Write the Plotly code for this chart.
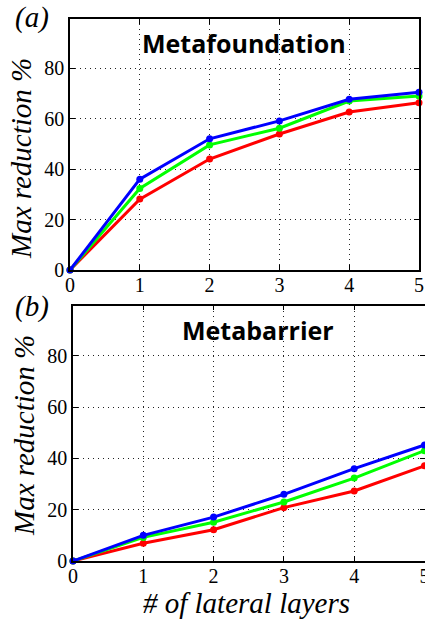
import plotly.graph_objects as go

layers = [0, 1, 2, 3, 4, 5]
# Panel (a) Metafoundation
found_blue = [0, 36, 52, 59.1, 67.7, 70.5]
found_green = [0, 32.3, 49.6, 56.2, 67, 69]
found_red = [0, 28.1, 44, 53.9, 62.6, 66.3]
# Panel (b) Metabarrier
barr_blue = [0, 10, 17.1, 26, 36, 45.2]
barr_green = [0, 9.2, 15.1, 23, 32.3, 43]
barr_red = [0, 6.9, 12.2, 20.8, 27.3, 37.1]

xticks = [0, 1, 2, 3, 4, 5]
yticks = [0, 20, 40, 60, 80]

W, H = 425, 623
fig = go.Figure()

def add(x, y, color, xa, ya):
    fig.add_trace(go.Scatter(x=x, y=y, mode="lines+markers", xaxis=xa, yaxis=ya,
                             line=dict(color=color, width=3),
                             marker=dict(color=color, size=7),
                             cliponaxis=False, showlegend=False))

for ys, c in [(found_red, "#ff0000"), (found_green, "#00ff00"), (found_blue, "#0000ff")]:
    add(layers, ys, c, "x", "y")
for ys, c in [(barr_red, "#ff0000"), (barr_green, "#00ff00"), (barr_blue, "#0000ff")]:
    add(layers, ys, c, "x2", "y2")

serif = "Liberation Serif, Times New Roman, serif"
tickfont = dict(family=serif, size=20, color="black")

common = dict(ticks="inside", ticklen=5, tickcolor="black", tickfont=tickfont,
              showline=True, linecolor="black", linewidth=1.5, mirror="ticks",
              showgrid=True, gridcolor="#222222", griddash="1px,4px", gridwidth=1,
              zeroline=False, automargin=False, ticklabeloverflow="allow")

def xaxis(domain, anchor):
    return dict(domain=domain, anchor=anchor, range=[0, 5], tickvals=xticks,
                ticklabelstandoff=-4, **common)

def yaxis(domain, anchor):
    return dict(domain=domain, anchor=anchor, range=[0, 99.5], tickvals=yticks, **common)

fig.update_layout(
    width=W, height=H, margin=dict(l=0, r=0, t=0, b=0, autoexpand=False),
    paper_bgcolor="white", plot_bgcolor="white",
    xaxis=xaxis([70 / W, 419 / W], "y"),
    yaxis=yaxis([1 - 270 / H, 1 - 19 / H], "x"),
    xaxis2=xaxis([73 / W, 424.5 / W], "y2"),
    yaxis2=yaxis([1 - 561 / H, 1 - 305.7 / H], "x2"),
)

ann = []
def txt(x, y, s, size, family=serif, italic=True, bold=False, angle=0):
    ann.append(dict(x=x / W, y=1 - y / H, xref="paper", yref="paper", text=s,
                    showarrow=False, textangle=angle, xanchor="center", yanchor="middle",
                    font=dict(family=family, size=size, color="black",
                              style="italic" if italic else "normal",
                              weight="bold" if bold else "normal")))

txt(32, 17, "(a)", 29)
txt(32, 306, "(b)", 29)
txt(21, 159, "Max reduction %", 29, angle=-90)
txt(24, 436, "Max reduction %", 29, angle=-90)
txt(246, 603, "# of lateral layers", 29)
sans = "Open Sans, Noto Sans, sans-serif"
txt(244, 43, "Metafoundation", 25, family=sans, italic=False, bold=True)
txt(258, 330, "Metabarrier", 25, family=sans, italic=False, bold=True)
fig.update_layout(annotations=ann)

fig.write_html("out.html", config={"displayModeBar": False},
               post_script="document.body.style.margin='0px';document.body.style.padding='0px';document.body.style.overflow='hidden';")
